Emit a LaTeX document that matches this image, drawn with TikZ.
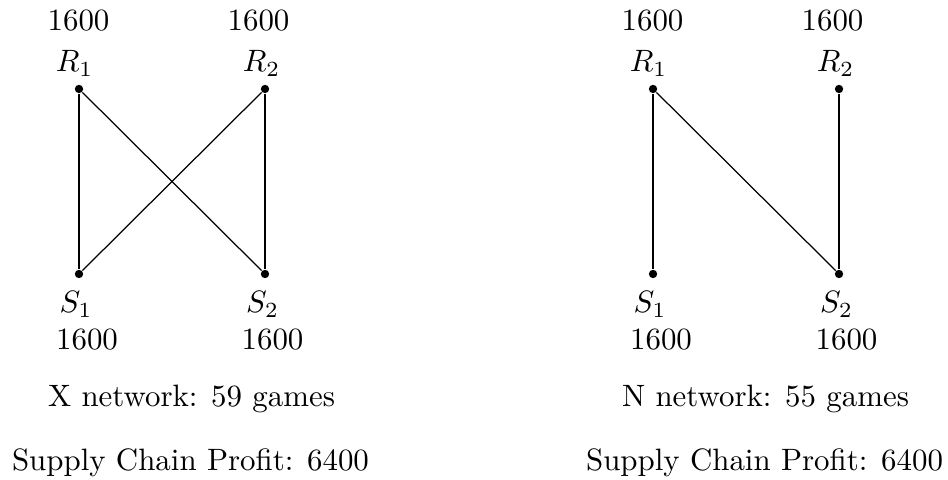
\documentclass[tikz,border=0pt]{standalone}
\begin{document}
\begin{tikzpicture}[x=0.3236pt,y=-0.3236pt,
  vertex/.style={circle,fill=black,inner sep=0pt,minimum size=2.7pt},
  edge/.style={draw,line width=0.4pt},
  lbl/.style={anchor=base,inner sep=0pt}]
\useasboundingbox (0,0) rectangle (948,480);

% ---- X network ----
\node[vertex] (xR1) at (79,89) {};
\node[vertex] (xR2) at (265,89) {};
\node[vertex] (xS1) at (79,274) {};
\node[vertex] (xS2) at (265,274) {};
\node[lbl] (xR1v) at (78.5,30.5) {1600};
\node[lbl] (xR2v) at (258.5,30.5) {1600};
\node[lbl] (xR1n) at (74.5,72) {$R_1$};
\node[lbl] (xR2n) at (261.5,72) {$R_2$};
\node[lbl] (xS1n) at (76,313) {$S_1$};
\node[lbl] (xS2n) at (262.5,313) {$S_2$};
\node[lbl] (xS1v) at (87,350) {1600};
\node[lbl] (xS2v) at (272.5,350) {1600};
\node[lbl] (xcap) at (191.5,407) {X network: 59 games};
\node[lbl] (xprof) at (190.5,471) {Supply Chain Profit: 6400};
\draw[edge] (xR1) -- (xS1);
\draw[edge] (xR1) -- (xS2);
\draw[edge] (xR2) -- (xS1);
\draw[edge] (xR2) -- (xS2);

% ---- N network ----
\begin{scope}[xshift=185.75pt]
\node[vertex] (nR1) at (79,89) {};
\node[vertex] (nR2) at (265,89) {};
\node[vertex] (nS1) at (79,274) {};
\node[vertex] (nS2) at (265,274) {};
\node[lbl] (nR1v) at (78.5,30.5) {1600};
\node[lbl] (nR2v) at (258.5,30.5) {1600};
\node[lbl] (nR1n) at (74.5,72) {$R_1$};
\node[lbl] (nR2n) at (261.5,72) {$R_2$};
\node[lbl] (nS1n) at (76,313) {$S_1$};
\node[lbl] (nS2n) at (262.5,313) {$S_2$};
\node[lbl] (nS1v) at (87,350) {1600};
\node[lbl] (nS2v) at (272.5,350) {1600};
\node[lbl] (ncap) at (191.5,407) {N network: 55 games};
\node[lbl] (nprof) at (190.5,471) {Supply Chain Profit: 6400};
\draw[edge] (nR1) -- (nS1);
\draw[edge] (nR1) -- (nS2);
\draw[edge] (nR2) -- (nS2);
\end{scope}
\end{tikzpicture}
\end{document}
